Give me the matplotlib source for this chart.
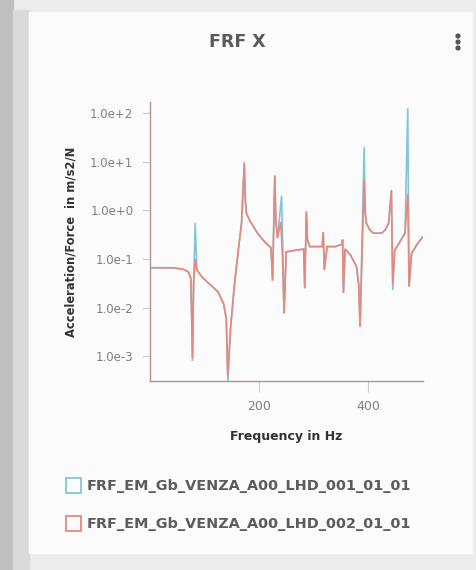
import matplotlib
matplotlib.use("Agg")
import matplotlib.pyplot as plt
from matplotlib.patches import Rectangle, Circle

# ---- data ----
freq_red = [0, 40, 60, 70, 75, 78, 80, 83, 86, 95, 110, 125, 135, 140, 142.5,
            148, 155, 162, 168, 173, 175, 177, 183, 190, 198, 207, 215, 222, 225,
            229, 231, 234, 240, 243, 246, 250, 265, 282, 284, 287, 289, 293, 305,
            316, 318, 320, 325, 340, 352, 353.5, 355, 358, 368, 379, 383, 385.5,
            393, 395, 397, 403, 410, 425, 432, 438, 443, 445.5, 449, 458, 468,
            473, 475.5, 480, 490, 500]
val_red = [0.066, 0.066, 0.062, 0.055, 0.040, 0.0009, 0.030, 0.10, 0.060, 0.043,
           0.030, 0.021, 0.012, 0.006, 0.0004, 0.004, 0.03, 0.15, 0.55, 9.0,
           1.6, 0.87, 0.62, 0.46, 0.33, 0.25, 0.20, 0.17, 0.036, 5.2, 0.6,
           0.27, 0.58, 0.12, 0.0076, 0.14, 0.15, 0.16, 0.025, 0.95, 0.25, 0.18,
           0.18, 0.18, 0.35, 0.06, 0.18, 0.18, 0.20, 0.25, 0.02, 0.16, 0.12,
           0.07, 0.03, 0.004, 4.2, 0.9, 0.55, 0.40, 0.34, 0.34, 0.40, 0.55, 2.6,
           0.03, 0.15, 0.22, 0.34, 2.2, 0.027, 0.13, 0.20, 0.28]

freq_blue = [0, 40, 60, 70, 75, 78, 80, 83, 86, 95, 110, 125, 135, 140, 143,
             148, 155, 162, 168, 173, 175, 177, 183, 190, 198, 207, 215, 222, 225,
             229, 231, 234, 241.5, 244, 246, 250, 265, 282, 284, 287, 289, 293,
             305, 316, 318, 320, 325, 340, 352, 353.5, 355, 358, 368, 379, 383,
             385.5, 393, 395, 397, 403, 410, 425, 432, 438, 443, 445.5, 449, 458,
             468, 473, 475.5, 480, 490, 500]
val_blue = [0.066, 0.066, 0.062, 0.055, 0.040, 0.0008, 0.030, 0.55, 0.060, 0.043,
            0.030, 0.021, 0.012, 0.006, 0.0003, 0.004, 0.03, 0.15, 0.55, 10.0,
            1.6, 0.87, 0.62, 0.46, 0.33, 0.25, 0.20, 0.17, 0.036, 5.2, 0.6,
            0.27, 2.0, 0.12, 0.0076, 0.14, 0.15, 0.16, 0.025, 0.95, 0.25, 0.18,
            0.18, 0.18, 0.35, 0.06, 0.18, 0.18, 0.20, 0.25, 0.02, 0.16, 0.12,
            0.07, 0.03, 0.004, 20.0, 0.9, 0.55, 0.40, 0.34, 0.34, 0.40, 0.55,
            2.6, 0.023, 0.15, 0.22, 0.34, 126.0, 0.027, 0.13, 0.20, 0.28]

series_names = ["FRF_EM_Gb_VENZA_A00_LHD_001_01_01",
                "FRF_EM_Gb_VENZA_A00_LHD_002_01_01"]
y_ticks = [1e-3, 1e-2, 1e-1, 1e0, 1e1, 1e2]
y_tick_labels = ["1.0e-3", "1.0e-2", "1.0e-1", "1.0e+0", "1.0e+1", "1.0e+2"]
x_ticks = [200, 400]
x_tick_labels = ["200", "400"]

BLUE = "#82c6d6"
RED = "#e8877d"

W, H = 477, 570
fig = plt.figure(figsize=(W / 100, H / 100), dpi=100)
fig.patch.set_facecolor("#eeeeee")

# card background and left shadow
bg = fig.add_axes([0, 0, 1, 1], zorder=-10)
bg.set_xlim(0, W)
bg.set_ylim(H, 0)
bg.axis("off")
bg.add_patch(Rectangle((0, 0), W, H, color="#ececec"))
bg.add_patch(Rectangle((0, 0), 13, H, color="#bfbfbf"))
bg.add_patch(Rectangle((13, 10), 16, H - 10, color="#dadada"))
bg.add_patch(Rectangle((29, 12), 443, 541, color="#fbfbfb"))
bg.text(237, 42, "FRF X", ha="center", va="center", fontsize=12.5,
        fontweight="bold", color="#5a5a5a")
for dy in (-6, 0, 6):
    bg.add_patch(Circle((458, 42 + dy), 1.9, color="#555555"))

# legend
bg.add_patch(Rectangle((66, 478), 15, 15, fill=False, edgecolor=BLUE, lw=1.3))
bg.add_patch(Rectangle((66, 516), 15, 15, fill=False, edgecolor=RED, lw=1.3))
bg.text(87, 486, series_names[0], ha="left", va="center", fontsize=10.4,
        color="#5c5c5c", fontweight="bold")
bg.text(87, 524, series_names[1], ha="left", va="center", fontsize=10.4,
        color="#5c5c5c", fontweight="bold")

ax = fig.add_axes([150 / W, 1 - 381 / H, 273 / W, 279 / H])
ax.set_facecolor("none")
ax.plot(freq_blue, val_blue, color=BLUE, lw=1.2, solid_joinstyle="miter")
ax.plot(freq_red, val_red, color=RED, lw=1.2, solid_joinstyle="miter")
ax.set_yscale("log")
ax.set_ylim(10 ** -3.51, 10 ** 2.23)
ax.set_xlim(0, 501)
ax.set_yticks(y_ticks)
ax.set_yticklabels(y_tick_labels)
ax.minorticks_off()
ax.set_xticks(x_ticks)
ax.set_xticklabels(x_tick_labels)
for s in ("top", "right"):
    ax.spines[s].set_visible(False)
for s in ("left", "bottom"):
    ax.spines[s].set_color("#a89690")
    ax.spines[s].set_linewidth(1.0)
ax.tick_params(axis="y", length=6, width=0.8, color="#cccccc",
               labelsize=8.5, labelcolor="#808080", pad=6)
ax.tick_params(axis="x", length=8, width=0.8, color="#cccccc",
               labelsize=9, labelcolor="#808080", pad=6)
ax.set_ylabel("Acceleration/Force  in m/s2/N", fontsize=8.3,
              fontweight="bold", color="#333333", labelpad=9)
ax.set_xlabel("Frequency in Hz", fontsize=9, fontweight="bold",
              color="#333333", labelpad=12)

fig.savefig("out.png", dpi=100, facecolor=fig.get_facecolor())
